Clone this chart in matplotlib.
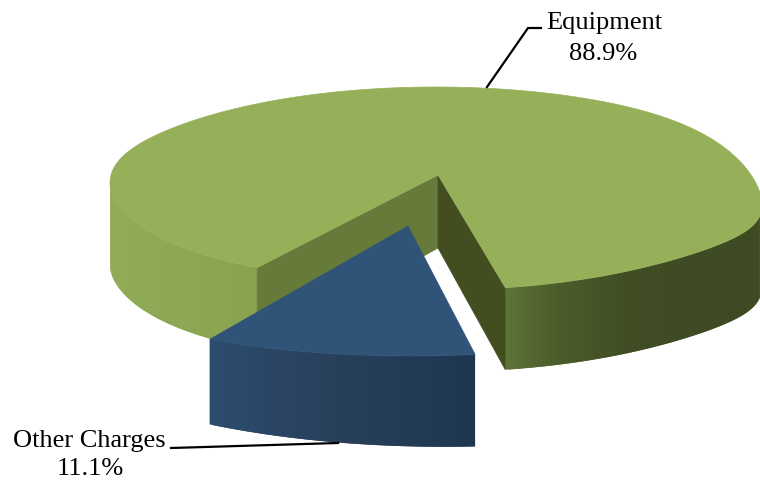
import numpy as np
import matplotlib
matplotlib.use("Agg")
import matplotlib.pyplot as plt
from matplotlib.colors import LinearSegmentedColormap
from matplotlib.patches import Polygon

labels = ["Equipment", "Other Charges"]
values = [88.9, 11.1]

# pixel layout of the tilted pie
MID = -10.5         # direction of the pulled out slice, degrees from the front
GAP_STRETCH = 1.14  # perspective widens the front of the pie

green_top = "#95b059"
green_cut_left = "#667b39"
green_cut_right = "#424e20"
blue_top = "#2f5478"

green_side = LinearSegmentedColormap.from_list("g", [
    (0.0, "#90ac57"), (0.22, "#89a24f"), (0.5, "#7f9648"), (0.6, "#5f7538"),
    (0.68, "#4c5e2b"), (0.8, "#404c23"), (1.0, "#3e4a21")])
blue_side = LinearSegmentedColormap.from_list("b", ["#2c4c6e", "#283f5a", "#1e3650"])


def rim_big(t):
    # the big slice is not a clean ellipse: the right tip hangs low, the left one sits high
    t = np.radians(t)
    s, c = np.sin(t), np.cos(t)
    ry = np.where(c < 0, 103, np.where(s > 0, 100, 93))
    bend = np.where(s > 0, 15, -7) * s ** 8
    return 436 + 326 * s, 190 + ry * c + bend


def rim_small(t):
    t = np.radians(t)
    return 410 + 395 * np.sin(t), 236 + 120 * np.cos(t)


def draw_side(ax, x, y, depth, cmap, lo, hi):
    # every strip overlaps the next so no seams show
    for i in range(len(x) - 1):
        j = min(i + 2, len(x) - 1)
        pts = [(x[i], y[i]), (x[j], y[j]), (x[j], y[j] + depth[j]), (x[i], y[i] + depth[i])]
        ax.add_patch(Polygon(pts, closed=True, fc=cmap((x[i] - lo) / (hi - lo)), lw=0))


fig = plt.figure(figsize=(7.6, 4.8), dpi=100)
ax = fig.add_axes([0, 0, 1, 1])
ax.set_xlim(0, 760)
ax.set_ylim(480, 0)
ax.axis("off")

# big slice
apex = (438, 175)
half_gap = 360 * values[1] / 100 / 2 * GAP_STRETCH
t_start = MID + half_gap
t_end = MID - half_gap + 360
depth = 82
apex_depth = 73

# only the front of the rim can be seen
for ts in (np.linspace(t_start, 92, 160), np.linspace(268, t_end, 80)):
    x, y = rim_big(ts)
    draw_side(ax, x, y, np.full(len(x), depth), green_side, 110, 760)

x0, y0 = rim_big(t_start)
x1, y1 = rim_big(t_end)
ax.add_patch(Polygon([apex, (x1, y1), (x1, y1 + depth), (apex[0], apex[1] + apex_depth)],
                     closed=True, fc=green_cut_left, ec=green_cut_left, lw=0.5))
ax.add_patch(Polygon([apex, (x0, y0), (x0, y0 + depth), (apex[0], apex[1] + apex_depth)],
                     closed=True, fc=green_cut_right, ec=green_cut_right, lw=0.5))
tx, ty = rim_big(np.linspace(t_start, t_end, 500))
ax.add_patch(Polygon([apex] + list(zip(tx, ty)), closed=True, fc=green_top, ec=green_top, lw=0.5))

# pulled out slice
apex_b = (408, 226)
half_b = 360 * values[1] / 100 / 2
ts = np.linspace(MID - half_b, MID + half_b, 100)
tx, ty = rim_small(ts)
draw_side(ax, tx, ty, np.linspace(85, 92, len(tx)), blue_side, 207, 476)
ax.add_patch(Polygon([apex_b] + list(zip(tx, ty)), closed=True, fc=blue_top, ec=blue_top, lw=0.5))

# leader lines and labels
ax.plot([487, 528, 541], [87, 28, 28], color="black", lw=1.6, solid_joinstyle="miter")
ax.plot([171, 338], [448, 443], color="black", lw=1.6)

font = dict(family="Liberation Serif", fontsize=19, color="black", ha="center", va="center")
ax.text(604, 23, labels[0], **font)
ax.text(603, 54, "%.1f%%" % values[0], **font)
ax.text(89, 441, labels[1], **font)
ax.text(90, 469, "%.1f%%" % values[1], **font)

fig.savefig("out.png", dpi=100)
